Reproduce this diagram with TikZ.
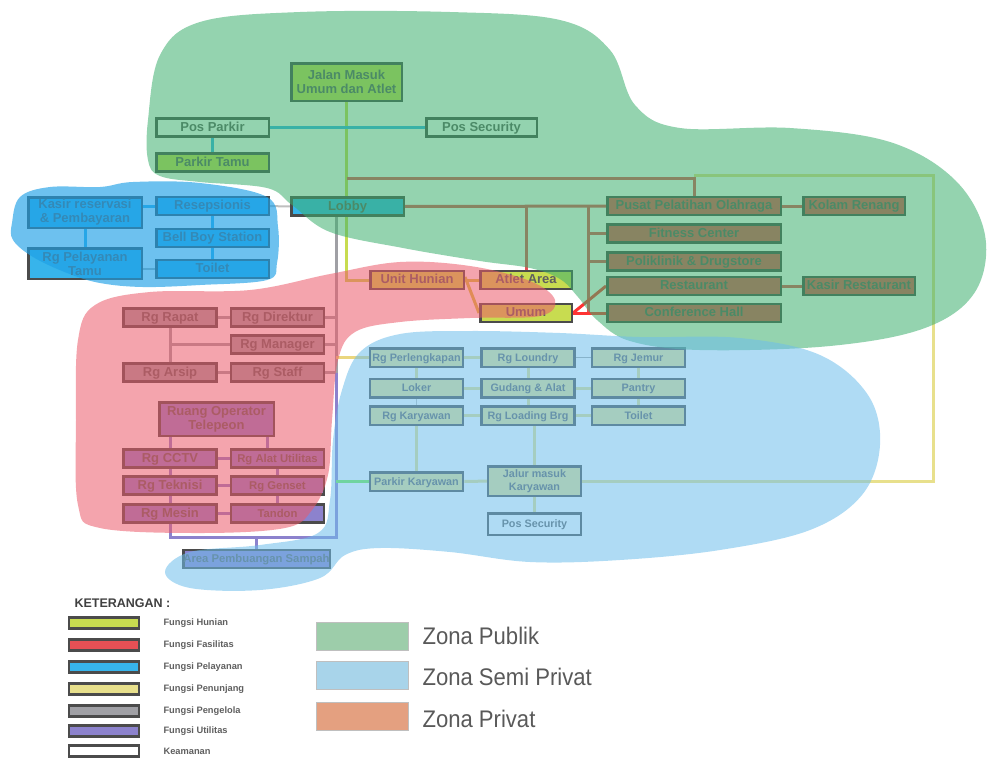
\documentclass[tikz,border=0pt]{standalone}
\usepackage{fontspec}
\setmainfont{Liberation Sans}
\newfontfamily\sempit[FakeStretch=0.92]{Liberation Sans}

\definecolor{wHunian}{RGB}{200,220,80}
\definecolor{wFasilitas}{RGB}{230,80,85}
\definecolor{wPelayanan}{RGB}{55,180,235}
\definecolor{wPenunjang}{RGB}{232,224,140}
\definecolor{wPengelola}{RGB}{160,160,165}
\definecolor{wUtilitas}{RGB}{140,130,205}
\definecolor{garis}{RGB}{75,75,75}
\definecolor{tulisan}{RGB}{95,95,95}
\definecolor{zPublik}{RGB}{60,175,110}
\definecolor{zLayan}{RGB}{30,160,230}
\definecolor{zSemi}{RGB}{110,190,235}
\definecolor{zPrivat}{RGB}{235,90,105}

\pgfdeclarelayer{hub}
\pgfdeclarelayer{zonalapis}
\pgfsetlayers{hub,main,zonalapis}

\begin{document}
\begin{tikzpicture}[x=1pt, y=-1pt,
  ruang/.style={draw=garis, line width=2.5pt, text=tulisan, align=center, inner sep=0pt,
    minimum width=93pt, minimum height=18pt, text height=0.72em, text depth=0pt,
    font=\fontsize{13}{14}\selectfont\bfseries},
  dua/.style={text height={}, text depth={}},
  kecil/.style={font=\fontsize{10.8}{12.5}\selectfont\bfseries, minimum height=18.5pt},
  sedang/.style={font=\fontsize{11.3}{13}\selectfont\bfseries},
  hunian/.style={fill=wHunian}, fasilitas/.style={fill=wFasilitas},
  pelayanan/.style={fill=wPelayanan}, penunjang/.style={fill=wPenunjang},
  pengelola/.style={fill=wPengelola}, utilitas/.style={fill=wUtilitas},
  keamanan/.style={fill=white},
  hub/.style={line width=3pt},
  zona/.style={fill opacity=0.55},
  ket/.style={draw=garis, line width=2.5pt, minimum width=70pt, minimum height=11pt, inner sep=0pt},
  ketlabel/.style={anchor=west, text=tulisan, font=\fontsize{9.3}{10}\selectfont\bfseries},
  zonaket/.style={draw=black!25, line width=0.8pt, minimum width=92pt, minimum height=28pt, inner sep=0pt},
  zonalabel/.style={anchor=west, text=black!65, font=\sempit\fontsize{24}{25}\selectfont}]

\useasboundingbox (0,0) rectangle (987,761);

% ruang - ruang
\path
  (346.5,82)  node[ruang, dua, hunian, minimum width=110.5pt, minimum height=37.5pt] (jalan) {Jalan Masuk\\Umum dan Atlet}
  (212.5,127.5) node[ruang, keamanan, minimum width=112.5pt] (pospark) {Pos Parkir}
  (481.5,127.5) node[ruang, keamanan, minimum width=110.5pt] (possec) {Pos Security}
  (212.5,162.5) node[ruang, hunian, minimum width=112.5pt] (parkirt) {Parkir Tamu}
  (347.5,206.5) node[ruang, pelayanan, minimum width=112.5pt] (lobby) {Lobby}
  (85,212.5)  node[ruang, dua, pelayanan, minimum width=113.5pt, minimum height=30.5pt] (kasir) {Kasir reservasi\\\& Pembayaran}
  (212.5,206) node[ruang, pelayanan, minimum width=112.5pt] (resepsionis) {Resepsionis}
  (212.5,238) node[ruang, pelayanan, minimum width=112.5pt] (bellboy) {Bell Boy Station}
  (85,263.5)  node[ruang, dua, pelayanan, minimum width=113.5pt, minimum height=30.5pt] (rgtamu) {Rg Pelayanan\\Tamu}
  (212.5,269) node[ruang, pelayanan, minimum width=112.5pt] (toiletA) {Toilet}
  (694,206)   node[ruang, fasilitas, minimum width=173.5pt] (pusat) {Pusat Pelatihan Olahraga}
  (854,206)   node[ruang, fasilitas, minimum width=101.5pt] (kolam) {Kolam Renang}
  (694,233.5) node[ruang, fasilitas, minimum width=173.5pt] (fitness) {Fitness Center}
  (694,261.5) node[ruang, fasilitas, minimum width=173.5pt] (poli) {Poliklinik \& Drugstore}
  (694,286)   node[ruang, fasilitas, minimum width=173.5pt] (resto) {Restaurant}
  (859,286)   node[ruang, fasilitas, minimum width=111.5pt] (kasirR) {Kasir Restaurant}
  (694,313)   node[ruang, fasilitas, minimum width=173.5pt] (conf) {Conference Hall}
  (417,280)   node[ruang, hunian, minimum width=93.5pt] (unit) {Unit Hunian}
  (526,280)   node[ruang, hunian, minimum width=91.5pt] (atlet) {Atlet Area}
  (526,313)   node[ruang, hunian, minimum width=91.5pt] (umum) {Umum};

\path
  (170,317.5)   node[ruang, pengelola] (rapat) {Rg Rapat}
  (277.5,317.5) node[ruang, pengelola] (direktur) {Rg Direktur}
  (277.5,344.5) node[ruang, pengelola] (manager) {Rg Manager}
  (170,372.5)   node[ruang, pengelola] (arsip) {Rg Arsip}
  (277.5,372.5) node[ruang, pengelola] (staff) {Rg Staff}
  (216.5,419)   node[ruang, dua, utilitas, minimum width=114.5pt, minimum height=33.5pt] (operator) {Ruang Operator\\Telepeon}
  (170,458.5)   node[ruang, utilitas] (cctv) {Rg CCTV}
  (277.5,458.5) node[ruang, utilitas, sedang] (alat) {Rg Alat Utilitas}
  (170,485.5)   node[ruang, utilitas] (teknisi) {Rg Teknisi}
  (277.5,485.5) node[ruang, utilitas, sedang] (genset) {Rg Genset}
  (170,513.5)   node[ruang, utilitas] (mesin) {Rg Mesin}
  (277.5,513.5) node[ruang, utilitas, sedang] (tandon) {Tandon}
  (256.5,559)   node[ruang, utilitas, sedang, minimum width=146.5pt] (sampah) {Area Pembuangan Sampah};

\path
  (416.5,357.5) node[ruang, penunjang, kecil] (perlengkapan) {Rg Perlengkapan}
  (528,357.5)   node[ruang, penunjang, kecil] (loundry) {Rg Loundry}
  (638.5,357.5) node[ruang, penunjang, kecil] (jemur) {Rg Jemur}
  (416.5,388)   node[ruang, penunjang, kecil] (loker) {Loker}
  (528,388)     node[ruang, penunjang, kecil] (gudang) {Gudang \& Alat}
  (638.5,388)   node[ruang, penunjang, kecil] (pantry) {Pantry}
  (416.5,415.5) node[ruang, penunjang, kecil] (karyawan) {Rg Karyawan}
  (528,415.5)   node[ruang, penunjang, kecil] (loading) {Rg Loading Brg}
  (638.5,415.5) node[ruang, penunjang, kecil] (toiletB) {Toilet}
  (416.5,481.5) node[ruang, penunjang, kecil] (parkirk) {Parkir Karyawan}
  (534.5,481)   node[ruang, dua, penunjang, kecil, minimum height=29.5pt] (jalurk) {Jalur masuk\\Karyawan}
  (534.5,524)   node[ruang, keamanan, kecil, minimum height=21.5pt] (possecB) {Pos Security};

\coordinate (atas) at (346.5,178);
\coordinate (kanan) at (933,175);
\coordinate (fs) at (588,206);
\coordinate (pg) at (336,206.5);
\coordinate (ut) at (336,537);

% hubungan antar ruang
\begin{pgfonlayer}{hub}
\draw[hub, wHunian] (jalan) -- (jalan.south |- lobby.north);
\draw[hub, wHunian] (jalan.south |- lobby.center) |- (unit);
\draw[hub, wHunian!80!orange] (unit) -- (atlet);
\draw[hub, wHunian!80!orange] ([yshift=3pt]unit.east) -- (umum.west);
\draw[hub, wPelayanan] (pospark) -- (possec);
\draw[hub, wPelayanan] (pospark) -- (parkirt);
\draw[hub, wFasilitas] (atas) -| (pusat);
\draw[hub, wPenunjang] (jalurk) -| (kanan) -- (kanan -| pusat.north);
\draw[hub, wFasilitas] (lobby) -- (pusat);
\draw[hub, wFasilitas] (atlet) -- (atlet |- lobby);
\draw[hub, wFasilitas] (fs) -- (fs |- conf);
\foreach \r in {fitness, poli, conf}
  \draw[hub, wFasilitas] (\r) -- (\r -| fs);
\draw[hub, wFasilitas] (pusat) -- (kolam);
\draw[hub, wFasilitas] (resto) -- (kasirR);
\draw[hub, red!80] (umum.east) -- (resto.west);
\draw[hub, red!80] (umum.east) -- (conf.west);
% pelayanan
\draw[line width=2pt, black!25] (resepsionis) -- (lobby);
\draw[hub, wPelayanan] (resepsionis) -- (resepsionis -| kasir.east);
\draw[hub, wPelayanan] (kasir) -- (rgtamu);
\draw[hub, wPelayanan] (resepsionis) -- (bellboy);
\draw[hub, wPelayanan] (bellboy) -- (toiletA);
\draw[line width=2pt, black!30] (toiletA) -- (toiletA -| rgtamu.east);
% pengelola dan utilitas
\draw[hub, wPengelola] (pg) -- (pg |- staff);
\foreach \r in {direktur, manager, staff}
  \draw[hub, wPengelola] (\r) -- (\r -| pg);
\draw[hub, wPengelola] (rapat) -- (direktur);
\draw[hub, wPengelola] (rapat) -- (arsip);
\draw[hub, wPengelola] (manager) -- (manager -| rapat);
\draw[hub, wPengelola] (arsip) -- (staff);
\draw[hub, wUtilitas] (pg |- staff) -- (ut) -| (mesin);
\draw[hub, wUtilitas] (sampah) -- (sampah |- ut);
\draw[hub, wUtilitas] (cctv) -- (cctv |- operator.south);
\draw[hub, wUtilitas] ([xshift=-10pt]alat.north) -- ([xshift=-10pt]alat.north |- operator.south);
\draw[hub, wUtilitas] (cctv) -- (alat);
\draw[hub, wUtilitas] (cctv) -- (teknisi);
\draw[hub, wUtilitas] (alat) -- (genset);
\draw[hub, wUtilitas] (teknisi) -- (genset);
\draw[hub, wUtilitas] (teknisi) -- (mesin);
\draw[hub, wUtilitas] (genset) -- (tandon);
\draw[hub, wUtilitas] (mesin) -- (tandon);
% penunjang
\draw[hub, wPenunjang!90!orange] (perlengkapan) -- (perlengkapan -| pg);
\draw[hub, green!50!wPenunjang] (parkirk) -- (parkirk -| pg);
\draw[hub, wPenunjang] (perlengkapan) -- (loundry);
\draw[line width=1.5pt, black!35] (loundry) -- (jemur);
\draw[hub, wPenunjang] (loundry) -- (gudang);
\draw[hub, wPenunjang] (jemur) -- (pantry);
\draw[hub, wPenunjang] (perlengkapan) -- (loker);
\draw[hub, wPenunjang] (loker) -- (gudang);
\draw[hub, wPenunjang] (gudang) -- (pantry);
\draw[hub, wPenunjang] (gudang) -- (loading);
\draw[hub, wPenunjang] (pantry) -- (toiletB);
\draw[line width=1pt, black!25] (loker) -- (karyawan);
\draw[hub, wPenunjang] (karyawan) -- (loading);
\draw[hub, wPenunjang] (loading) -- (toiletB);
\draw[hub, wPenunjang] (karyawan) -- (parkirk);
\draw[hub, wPenunjang] (jalurk.north) -- (jalurk.north |- loading);
\draw[hub, wPenunjang] (parkirk) -- (jalurk);
\draw[hub, wPenunjang] (jalurk) -- (possecB);
\end{pgfonlayer}

% zona
\begin{pgfonlayer}{zonalapis}
\fill[zPublik, zona] plot[smooth cycle, tension=0.6] coordinates {
  (148,120) (160,55) (200,22) (300,12) (450,12) (560,20) (610,50) (635,105)
  (680,128) (790,128) (890,142) (955,180) (985,235) (975,292) (925,328)
  (830,346) (700,350) (630,341) (597,320) (578,297) (560,279) (530,268)
  (480,261) (403,248) (330,232) (292,205) (267,188) (200,182) (160,176) (148,160)};
\fill[zLayan, fill opacity=0.65] plot[smooth cycle, tension=0.6] coordinates {
  (12,223) (20,197) (50,187) (100,187) (133,182) (200,183) (267,197) (278,227)
  (277,263) (267,280) (200,285) (143,287) (100,283) (67,273) (33,257) (13,240)};
\fill[zPrivat, zona] plot[smooth cycle, tension=0.6] coordinates {
  (95,305) (150,292) (250,290) (330,274) (400,262) (470,266) (530,281) (555,300)
  (540,316) (470,318) (400,322) (355,332) (338,360) (332,420) (328,475) (312,510)
  (285,528) (200,533) (100,528) (78,505) (76,420) (78,340)};
\fill[zSemi, zona] plot[smooth cycle, tension=0.6] coordinates {
  (360,352) (400,334) (470,331) (560,333) (640,337) (740,338) (820,355) (868,395)
  (880,445) (862,495) (810,530) (720,550) (620,560) (530,562) (450,552) (380,548)
  (345,555) (320,578) (260,590) (190,588) (165,572) (190,552) (260,545) (318,533)
  (330,500) (333,440) (342,390)};

% keterangan
\node[anchor=west, text=black!75, font=\fontsize{12.5}{13}\selectfont\bfseries] (judul) at (71,603) {KETERANGAN :};
\foreach \y/\w/\t [count=\i] in {623/wHunian/Fungsi Hunian, 645/wFasilitas/Fungsi Fasilitas,
    667/wPelayanan/Fungsi Pelayanan, 689/wPenunjang/Fungsi Penunjang,
    711/wPengelola/Fungsi Pengelola, 731/wUtilitas/Fungsi Utilitas, 751/white/Keamanan}{
  \node[ket, fill=\w] (ket\i) at (104,\y) {};
  \node[ketlabel] (lab\i) at (160,\y) {\t};
}
\node[zonaket, fill={rgb,255:red,157;green,205;blue,170}] (zpub) at (362,636) {};
\node[zonaket, fill={rgb,255:red,168;green,212;blue,234}] (zsem) at (362,675) {};
\node[zonaket, fill={rgb,255:red,228;green,160;blue,128}] (zpri) at (362,716) {};
\node[zonalabel] (lpub) at (419,636) {Zona Publik};
\node[zonalabel] (lsem) at (419,677) {Zona Semi Privat};
\node[zonalabel] (lpri) at (419,719) {Zona Privat};
\end{pgfonlayer}

\end{tikzpicture}
\end{document}
